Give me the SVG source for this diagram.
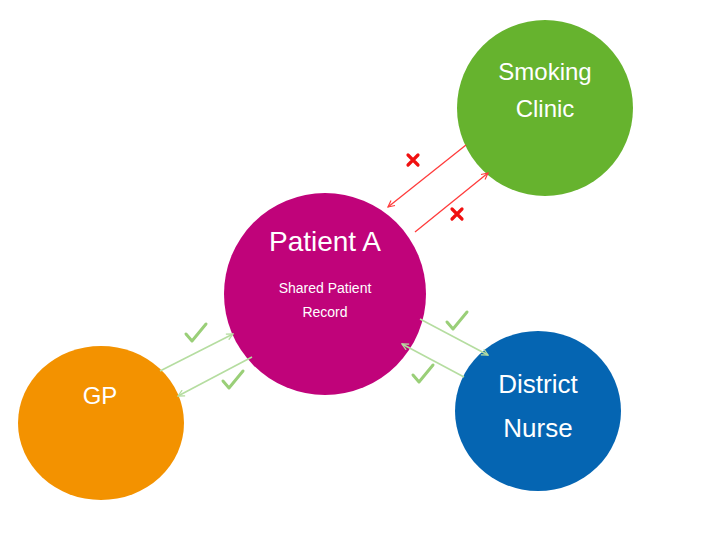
<svg xmlns="http://www.w3.org/2000/svg" width="708" height="540" viewBox="0 0 708 540">
<defs>
<style>
.lbl{font-family:"Liberation Sans","Open Sans",sans-serif;fill:#fff;text-anchor:middle}
.red{stroke:#FF3B3B;stroke-width:1.3;fill:none}
.grn{stroke:#B5DDA0;stroke-width:1.6;fill:none}
.x{stroke:#F01010;stroke-width:3.2;stroke-linecap:round;fill:none}
.ck{stroke:#9ACF78;stroke-width:3;stroke-linecap:round;stroke-linejoin:round;fill:none}
</style>
<marker id="ar" viewBox="0 0 10 10" refX="9" refY="5" markerWidth="8" markerHeight="8" orient="auto" markerUnits="userSpaceOnUse">
<path d="M1,1 L9,5 L1,9" fill="none" stroke="#FF3B3B" stroke-width="1.5"/>
</marker>
<marker id="ag" viewBox="0 0 10 10" refX="9" refY="5" markerWidth="8" markerHeight="8" orient="auto" markerUnits="userSpaceOnUse">
<path d="M1,1 L9,5 L1,9" fill="none" stroke="#B5DDA0" stroke-width="1.6"/>
</marker>
</defs>
<rect width="708" height="540" fill="#fff"/>
<g id="smoking-clinic">
<circle cx="545" cy="108" r="88" fill="#66B32E"/>
<text class="lbl" x="545" y="80" font-size="24">Smoking</text>
<text class="lbl" x="545" y="117" font-size="24">Clinic</text>
</g>
<g id="patient-a">
<circle cx="325" cy="294" r="101" fill="#C0037A"/>
<text class="lbl" x="325" y="251" font-size="28">Patient A</text>
<text class="lbl" x="325" y="293" font-size="14">Shared Patient</text>
<text class="lbl" x="325" y="317" font-size="14">Record</text>
</g>
<g id="gp">
<ellipse cx="101" cy="423" rx="83" ry="77" fill="#F39200"/>
<text class="lbl" x="100" y="404" font-size="24">GP</text>
</g>
<g id="district-nurse">
<ellipse cx="538" cy="411" rx="83" ry="80" fill="#0565B2"/>
<text class="lbl" x="538" y="393" font-size="26">District</text>
<text class="lbl" x="538" y="437" font-size="26">Nurse</text>
</g>
<g id="connectors">
<line class="red" x1="466" y1="145" x2="388" y2="207" marker-end="url(#ar)"/>
<line class="red" x1="415" y1="232" x2="488" y2="173" marker-end="url(#ar)"/>
<line class="grn" x1="160" y1="371" x2="233" y2="334" marker-end="url(#ag)"/>
<line class="grn" x1="252" y1="357" x2="178" y2="396" marker-end="url(#ag)"/>
<line class="grn" x1="420" y1="319" x2="488" y2="355" marker-end="url(#ag)"/>
<line class="grn" x1="464" y1="377" x2="402" y2="344" marker-end="url(#ag)"/>
<path class="x" d="M408,155 L418,165 M418,155 L408,165"/>
<path class="x" d="M452,209 L462,219 M462,209 L452,219"/>
<path class="ck" d="M186,334 L192,341 L206,324"/>
<path class="ck" d="M223,381 L229,388 L243,371"/>
<path class="ck" d="M447,322 L453,329 L467,312"/>
<path class="ck" d="M413,375 L419,382 L433,365"/>
</g>
</svg>
